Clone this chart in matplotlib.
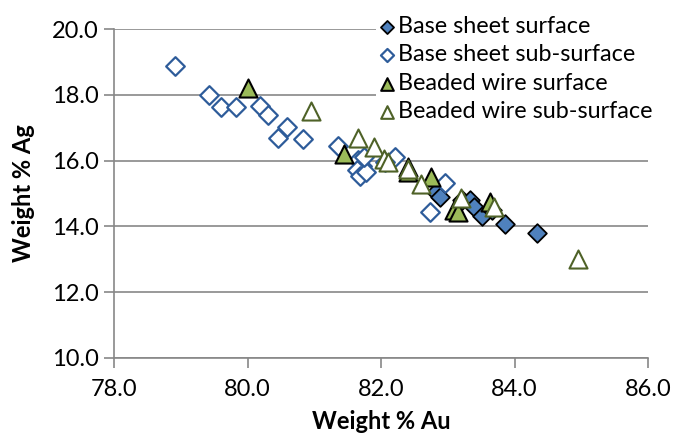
import matplotlib
matplotlib.use("Agg")
from matplotlib import pyplot as plt

# Data (Weight % Au, Weight % Ag)
base_surface_au = [82.83, 82.88, 83.21, 83.33, 83.39, 83.51, 83.66, 83.86, 84.34]
base_surface_ag = [15.05, 14.89, 14.80, 14.80, 14.59, 14.32, 14.50, 14.07, 13.80]

base_sub_au = [78.91, 79.42, 79.60, 79.83, 80.19, 80.31, 80.59, 80.46, 80.83, 81.36,
               81.66, 81.72, 81.64, 81.69, 81.78, 81.75, 82.21, 82.06, 82.96, 82.73]
base_sub_ag = [18.88, 17.99, 17.63, 17.63, 17.66, 17.39, 17.02, 16.69, 16.66, 16.44,
               16.02, 15.84, 15.71, 15.53, 15.65, 16.11, 16.11, 15.96, 15.32, 14.44]

bead_surface_au = [80.00, 81.45, 82.40, 82.40, 82.75, 83.10, 83.15, 83.63]
bead_surface_ag = [18.20, 16.20, 15.80, 15.65, 15.50, 14.50, 14.45, 14.75]

bead_sub_au = [80.95, 81.65, 81.90, 82.05, 82.10, 82.40, 82.60, 83.20, 83.70, 84.95]
bead_sub_ag = [17.50, 16.70, 16.40, 16.05, 15.95, 15.75, 15.30, 14.85, 14.60, 13.00]

x_ticks = [78.0, 80.0, 82.0, 84.0, 86.0]
y_ticks = [10.0, 12.0, 14.0, 16.0, 18.0, 20.0]

plt.rcParams['font.family'] = ['Lato', 'DejaVu Sans']

fig = plt.figure(figsize=(6.74, 4.38), dpi=100)
ax = fig.add_axes([114 / 674, 1 - 358 / 438, (648 - 114) / 674, (358 - 29) / 438])

grey = '#878787'
ax.scatter(base_surface_au, base_surface_ag, marker='D', s=9.5 ** 2, facecolor='#4F81BD',
           edgecolor='black', linewidth=1.3, label='Base sheet surface', zorder=3)
ax.scatter(base_sub_au, base_sub_ag, marker='D', s=9.5 ** 2, facecolor='white',
           edgecolor='#2E5C9A', linewidth=1.6, label='Base sheet sub-surface', zorder=3)
ax.scatter(bead_surface_au, bead_surface_ag, marker='^', s=13 ** 2, facecolor='#9BBB59',
           edgecolor='black', linewidth=1.5, label='Beaded wire surface', zorder=3)
ax.scatter(bead_sub_au, bead_sub_ag, marker='^', s=13 ** 2, facecolor='white',
           edgecolor='#4F6228', linewidth=1.5, label='Beaded wire sub-surface', zorder=3)

ax.set_xlim(78, 86)
ax.set_ylim(10, 20)
ax.set_xticks(x_ticks)
ax.set_yticks(y_ticks)
ax.set_xticklabels([f"{v:.1f}" for v in x_ticks])
ax.set_yticklabels([f"{v:.1f}" for v in y_ticks])
ax.tick_params(axis='both', labelsize=17, colors=grey, labelcolor='black',
               length=7, width=1.2, direction='out')
ax.tick_params(axis='x', pad=8)
ax.tick_params(axis='y', pad=4)

ax.grid(axis='y', color=grey, linewidth=1.2)
ax.set_axisbelow(True)
for side in ['top', 'right']:
    ax.spines[side].set_visible(False)
for side in ['left', 'bottom']:
    ax.spines[side].set_color(grey)
    ax.spines[side].set_linewidth(1.2)

ax.set_xlabel('Weight % Au', fontsize=17, fontweight='bold', labelpad=7)
ax.set_ylabel('Weight % Ag', fontsize=17, fontweight='bold', labelpad=12)

leg = fig.legend(loc='upper left', bbox_to_anchor=(364 / 674, 1 - 2 / 438),
                 fontsize=16.8, markerscale=0.7, handletextpad=0.05, handlelength=0.8,
                 labelspacing=0.32, borderpad=0.1, frameon=True, fancybox=False)
leg.get_frame().set_facecolor('white')
leg.get_frame().set_edgecolor('none')
leg.get_frame().set_alpha(1)

fig.savefig('out.png', dpi=100)
